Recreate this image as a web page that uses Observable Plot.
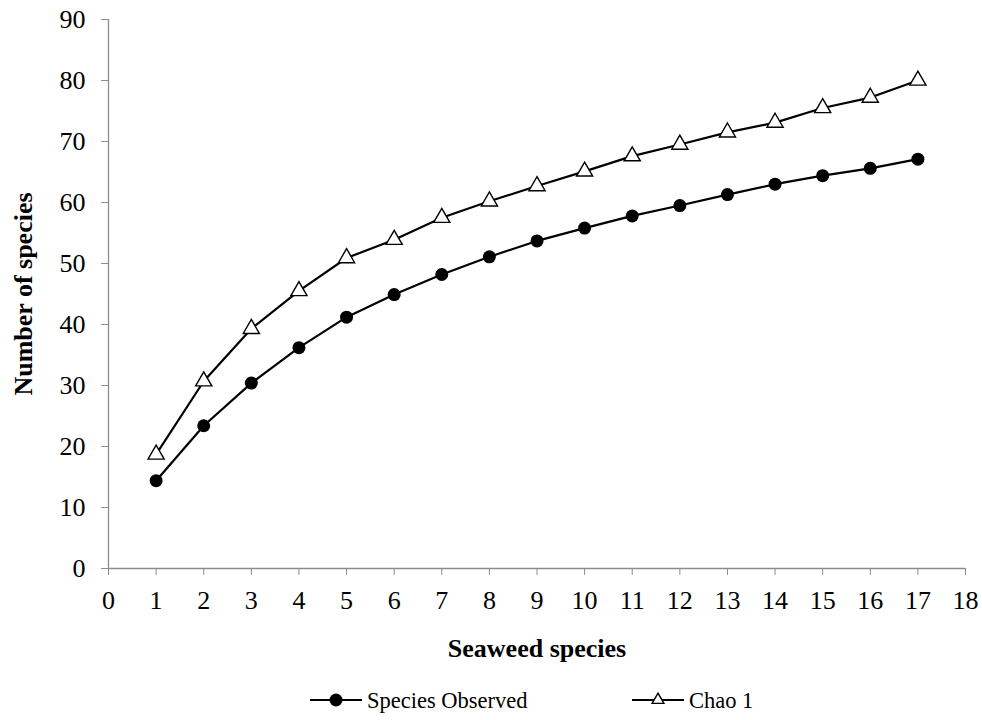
<!DOCTYPE html>
<html>
<head>
<meta charset="utf-8">
<script src="https://cdn.jsdelivr.net/npm/d3@7"></script>
<script src="https://cdn.jsdelivr.net/npm/@observablehq/plot@0.6"></script>
<style>
  body { margin: 0; background: #fff; }
  svg, svg text { font-family: "Liberation Serif", "Times New Roman", serif !important; }
  #legend { position: relative; width: 982px; height: 45px; }
  #legend svg { position: absolute; left: 0; top: 0; }
</style>
</head>
<body>
<div id="chart"></div>
<div id="legend"></div>
<script>
const samples = [1, 2, 3, 4, 5, 6, 7, 8, 9, 10, 11, 12, 13, 14, 15, 16, 17];
const speciesObserved = [14.4, 23.4, 30.4, 36.2, 41.2, 44.9, 48.2, 51.1, 53.7, 55.8, 57.8, 59.5, 61.3, 63.0, 64.4, 65.6, 67.1];
const chao1 = [18.7, 30.7, 39.3, 45.5, 50.9, 53.9, 57.5, 60.2, 62.7, 65.1, 67.6, 69.5, 71.5, 73.1, 75.5, 77.2, 80.0];
const seriesNames = ["Species Observed", "Chao 1"];
const xTicks = d3.range(0, 19, 1);
const yTicks = d3.range(0, 100, 10);
const xLabel = "Seaweed species";
const yLabel = "Number of species";

const obs = samples.map((x, i) => ({x, y: speciesObserved[i]}));
const chao = samples.map((x, i) => ({x, y: chao1[i]}));

const axisGray = "#8c8c8c";

const plot = Plot.plot({
  width: 982,
  height: 675,
  marginTop: 19,
  marginBottom: 107,
  marginLeft: 108,
  marginRight: 17,
  style: { fontFamily: "'Liberation Serif', 'Times New Roman', serif", color: "#000", background: "#fff" },
  x: { domain: [0, 18] },
  y: { domain: [0, 90] },
  marks: [
    Plot.axisX({ ticks: xTicks, tickSize: 7, stroke: axisGray, text: null, label: null }),
    Plot.axisY({ ticks: yTicks, tickSize: 7, stroke: axisGray, text: null, label: null }),
    Plot.text(xTicks, { x: d => d, frameAnchor: "bottom", lineAnchor: "middle", dy: 32, fontSize: 26, fill: "#000", text: d => String(d) }),
    Plot.text(yTicks, { y: d => d, frameAnchor: "left", lineAnchor: "middle", dx: -23, textAnchor: "end", fontSize: 26, fill: "#000", text: d => String(d) }),
    Plot.ruleY([0], { stroke: axisGray, strokeWidth: 1.3 }),
    Plot.ruleX([0], { stroke: axisGray, strokeWidth: 1.3 }),
    Plot.line(chao, { x: "x", y: "y", stroke: "#000", strokeWidth: 2.2 }),
    Plot.line(obs, { x: "x", y: "y", stroke: "#000", strokeWidth: 2.2 }),
    Plot.dot(chao, { x: "x", y: "y", symbol: "triangle", r: 6, fill: "#fff", stroke: "#000", strokeWidth: 1.4 }),
    Plot.dot(obs, { x: "x", y: "y", symbol: "circle", r: 6.5, fill: "#000", stroke: "none" }),
    Plot.text([xLabel], { frameAnchor: "bottom", lineAnchor: "middle", dy: 80, fontSize: 26, fontWeight: "bold", fill: "#000" }),
    Plot.text([yLabel], { frameAnchor: "left", textAnchor: "middle", lineAnchor: "middle", dx: -85, rotate: -90, fontSize: 26, fontWeight: "bold", fill: "#000" })
  ]
});
document.getElementById("chart").appendChild(plot);

// Legend
const lg = d3.select("#legend").append("svg").attr("width", 982).attr("height", 45);
const items = [
  { name: seriesNames[0], x0: 310, type: "circle" },
  { name: seriesNames[1], x0: 632, type: "triangle" }
];
const ly = 25;
items.forEach(it => {
  lg.append("line").attr("x1", it.x0).attr("x2", it.x0 + 52).attr("y1", ly).attr("y2", ly)
    .attr("stroke", "#000").attr("stroke-width", 2.2);
  if (it.type === "circle") {
    lg.append("circle").attr("cx", it.x0 + 26).attr("cy", ly).attr("r", 6.5).attr("fill", "#000");
  } else {
    lg.append("path").attr("d", d3.symbol(d3.symbolTriangle, 60)())
      .attr("transform", `translate(${it.x0 + 26},${ly})`).attr("fill", "#fff").attr("stroke", "#000").attr("stroke-width", 1.4);
  }
  lg.append("text").attr("x", it.x0 + 57).attr("y", ly).attr("dy", "0.35em")
    .style("font-size", "22.5px").attr("fill", "#000").text(it.name);
});
</script>
</body>
</html>
